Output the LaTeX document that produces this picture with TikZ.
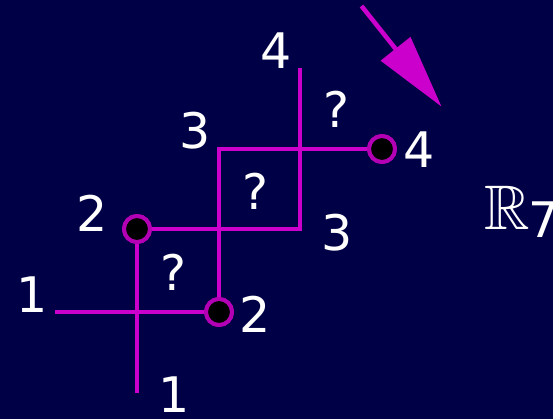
\documentclass[tikz,border=0pt]{standalone}
\usepackage{amssymb}
\usepackage{fontspec}
\setmainfont{DejaVu Sans}
\usetikzlibrary{arrows.meta}
\definecolor{bgnavy}{RGB}{0,0,70}
\definecolor{mag}{RGB}{204,0,204}
\definecolor{ringmag}{RGB}{180,0,180}
\tikzset{
  wire/.style={draw=mag, line width=4pt},
  dot/.style={circle, draw=ringmag, fill=black, line width=4pt, minimum size=26pt, inner sep=0pt},
  lbl/.style={text=white, inner sep=0pt, font=\fontsize{49}{49}\selectfont},
}
\begin{document}
\begin{tikzpicture}[x=1pt, y=-1pt]
\fill[bgnavy] (0,0) rectangle (553,419);
\useasboundingbox (0,0) rectangle (553,419);
% coordinates
\coordinate (b1) at (137,393);
\coordinate (a1) at (55,312);
\coordinate (t4) at (300,68);
\coordinate (as) at (361.5,6);
\coordinate (at) at (441.6,106.7);
% dots (named, used as wire ends)
\node[dot] (c2l) at (137,229) {};
\node[dot] (c2b) at (219,312) {};
\node[dot] (c4) at (382,149) {};
% wires
\draw[wire] (c2l) -- (b1);
\draw[wire] (a1) -- (c2b);
\draw[wire] (c2b) |- (c4);
\draw[wire] (c2l) -| (t4);
% redraw dots on top of wires
\node[dot] at (c2l) {};
\node[dot] at (c2b) {};
\node[dot] at (c4) {};
% arrow
\draw[draw=mag, line width=4.5pt, -{Triangle[length=74pt, width=37pt, fill=mag]}] (as) -- (at);
% labels
\node[lbl] (l4t) at (276,51) {4};
\node[lbl] (q1) at (336,109) {?};
\node[lbl] (l3u) at (195,131) {3};
\node[lbl] (l4r) at (419,150) {4};
\node[lbl] (q2) at (255,191) {?};
\node[lbl] (l2l) at (92,213) {2};
\node[lbl] (l3r) at (337,233) {3};
\node[lbl] (q3) at (174,272) {?};
\node[lbl] (l1l) at (32,295) {1};
\node[lbl] (l2r) at (255,314) {2};
\node[lbl] (l1b) at (174,395) {1};
\node[text=white, inner sep=0pt, font=\fontsize{63}{63}\selectfont] (rr) at (507,208) {$\mathbb{R}$};
\node[lbl] (r7) at (544,220) {7};
\end{tikzpicture}
\end{document}
